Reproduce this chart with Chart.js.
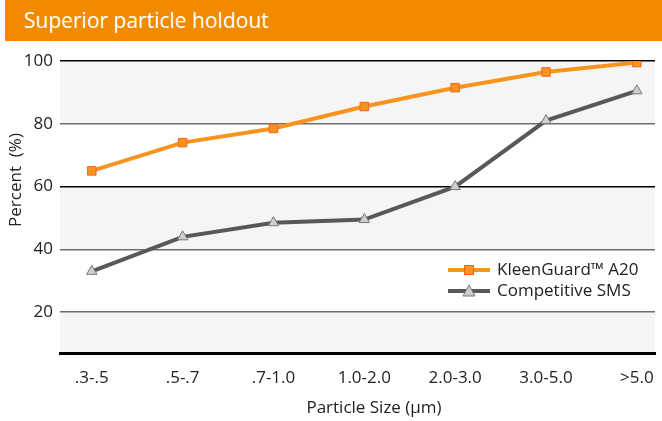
<!DOCTYPE html>
<html>
<head>
<meta charset="utf-8">
<script src="https://cdn.jsdelivr.net/npm/chart.js@4/dist/chart.umd.min.js"></script>
<style>
  html, body { margin: 0; padding: 0; background: #fff; }
  #wrap { position: relative; width: 662px; height: 421px; }
  #title {
    position: absolute; left: 5px; top: 0; width: 657px; height: 41px;
    background: #F28A00; color: #fff; z-index: 2;
    font-family: 'Open Sans', sans-serif; font-size: 21px;
    line-height: 41px; padding-left: 19px; box-sizing: border-box;
  }
  canvas { position: absolute; left: 0; top: 0; }
</style>
</head>
<body>
<div id="wrap">
  <div id="title">Superior particle holdout</div>
  <canvas id="chart" width="662" height="421"></canvas>
</div>
<script>
// dados
const categories = ['.3-.5', '.5-.7', '.7-1.0', '1.0-2.0', '2.0-3.0', '3.0-5.0', '>5.0'];
const kleenGuard = [65, 74, 78.5, 85.5, 91.5, 96.5, 99.5];
const competitiveSMS = [33, 44, 48.5, 49.5, 60, 81, 90.5];
const yTicks = [20, 40, 60, 80, 100];

const font = "'Open Sans', sans-serif";
const ORANGE = '#F7941D';
const GRAY = '#585858';

// faixas alternadas no fundo da área do gráfico
const bands = {
  id: 'bands',
  beforeDraw(chart) {
    const { ctx, chartArea: a, scales: { y } } = chart;
    ctx.save();
    ctx.fillStyle = '#f5f5f5';
    [[80, 100], [40, 60], [y.min, 20]].forEach(([lo, hi]) => {
      const top = y.getPixelForValue(hi), bot = y.getPixelForValue(lo);
      ctx.fillRect(a.left, top, a.right - a.left, bot - top);
    });
    ctx.restore();
  }
};

// títulos dos eixos + legenda desenhados à mão
const extras = {
  id: 'extras',
  afterDraw(chart) {
    const { ctx } = chart;
    ctx.save();
    ctx.fillStyle = '#222';
    ctx.font = `17px ${font}`;
    ctx.textAlign = 'center';
    ctx.textBaseline = 'middle';
    ctx.fillText('Particle Size (\u03bcm)', 374, 408);
    ctx.translate(16, 180);
    ctx.rotate(-Math.PI / 2);
    ctx.fillText('Percent  (%)', 0, 0);
    ctx.restore();

    // legenda
    ctx.save();
    chart.data.datasets.forEach((ds, i) => {
      const yy = 270 + i * 21;
      ctx.strokeStyle = ds.borderColor;
      ctx.lineWidth = 4;
      ctx.beginPath();
      ctx.moveTo(448, yy);
      ctx.lineTo(490, yy);
      ctx.stroke();
      ctx.fillStyle = ds.pointBackgroundColor;
      ctx.strokeStyle = ds.pointBorderColor;
      ctx.lineWidth = 1;
      if (ds.pointStyle === 'rect') {
        ctx.fillRect(464, yy - 5, 10, 10);
        ctx.strokeRect(464.5, yy - 4.5, 9, 9);
      } else {
        ctx.beginPath();
        ctx.moveTo(469, yy - 6);
        ctx.lineTo(475, yy + 5);
        ctx.lineTo(463, yy + 5);
        ctx.closePath();
        ctx.fill();
        ctx.stroke();
      }
      ctx.fillStyle = '#222';
      ctx.font = `17px ${font}`;
      ctx.textAlign = 'left';
      ctx.textBaseline = 'middle';
      ctx.fillText(ds.label, 497, yy);
    });
    ctx.restore();
  }
};

const toPoints = (vals) => vals.map((v, i) => ({ x: i, y: v }));

new Chart(document.getElementById('chart').getContext('2d'), {
  type: 'line',
  data: {
    datasets: [
      {
        label: 'KleenGuard\u2122 A20',
        data: toPoints(kleenGuard),
        borderColor: ORANGE,
        borderWidth: 4,
        pointStyle: 'rect',
        pointRadius: 6,
        pointBackgroundColor: ORANGE,
        pointBorderColor: '#F26522',
        pointBorderWidth: 1,
        tension: 0
      },
      {
        label: 'Competitive SMS',
        data: toPoints(competitiveSMS),
        borderColor: GRAY,
        borderWidth: 4,
        pointStyle: 'triangle',
        pointRadius: 6,
        pointBackgroundColor: '#cfcfcf',
        pointBorderColor: '#777',
        pointBorderWidth: 1,
        tension: 0
      }
    ]
  },
  plugins: [bands, extras],
  options: {
    responsive: false,
    animation: false,
    layout: { padding: { top: 61, left: 0, right: 0, bottom: 0 } },
    plugins: { legend: { display: false }, tooltip: { enabled: false } },
    scales: {
      x: {
        type: 'linear',
        min: -0.35,
        max: 6.2,
        afterBuildTicks: (s) => { s.ticks = categories.map((c, i) => ({ value: i })); },
        afterFit: (s) => { s.height = 68; s.paddingLeft = 0; s.paddingRight = 0; },
        grid: { display: false, drawTicks: false },
        border: { display: true, color: '#000', width: 3 },
        ticks: {
          color: '#222',
          font: { family: font, size: 17 },
          padding: 15,
          maxRotation: 0,
          autoSkip: false,
          callback: (v) => categories[v]
        }
      },
      y: {
        min: 7,
        max: 100,
        afterBuildTicks: (s) => { s.ticks = yTicks.map(v => ({ value: v })); },
        afterFit: (s) => { s.width = 60; },
        grid: {
          drawTicks: false,
          lineWidth: 1.5,
          color: (c) => (c.tick.value === 100 || c.tick.value === 60) ? '#000' : '#6e6e6e'
        },
        border: { display: false },
        ticks: {
          color: '#222',
          font: { family: font, size: 17 },
          padding: 7
        }
      }
    }
  }
});
</script>
</body>
</html>
